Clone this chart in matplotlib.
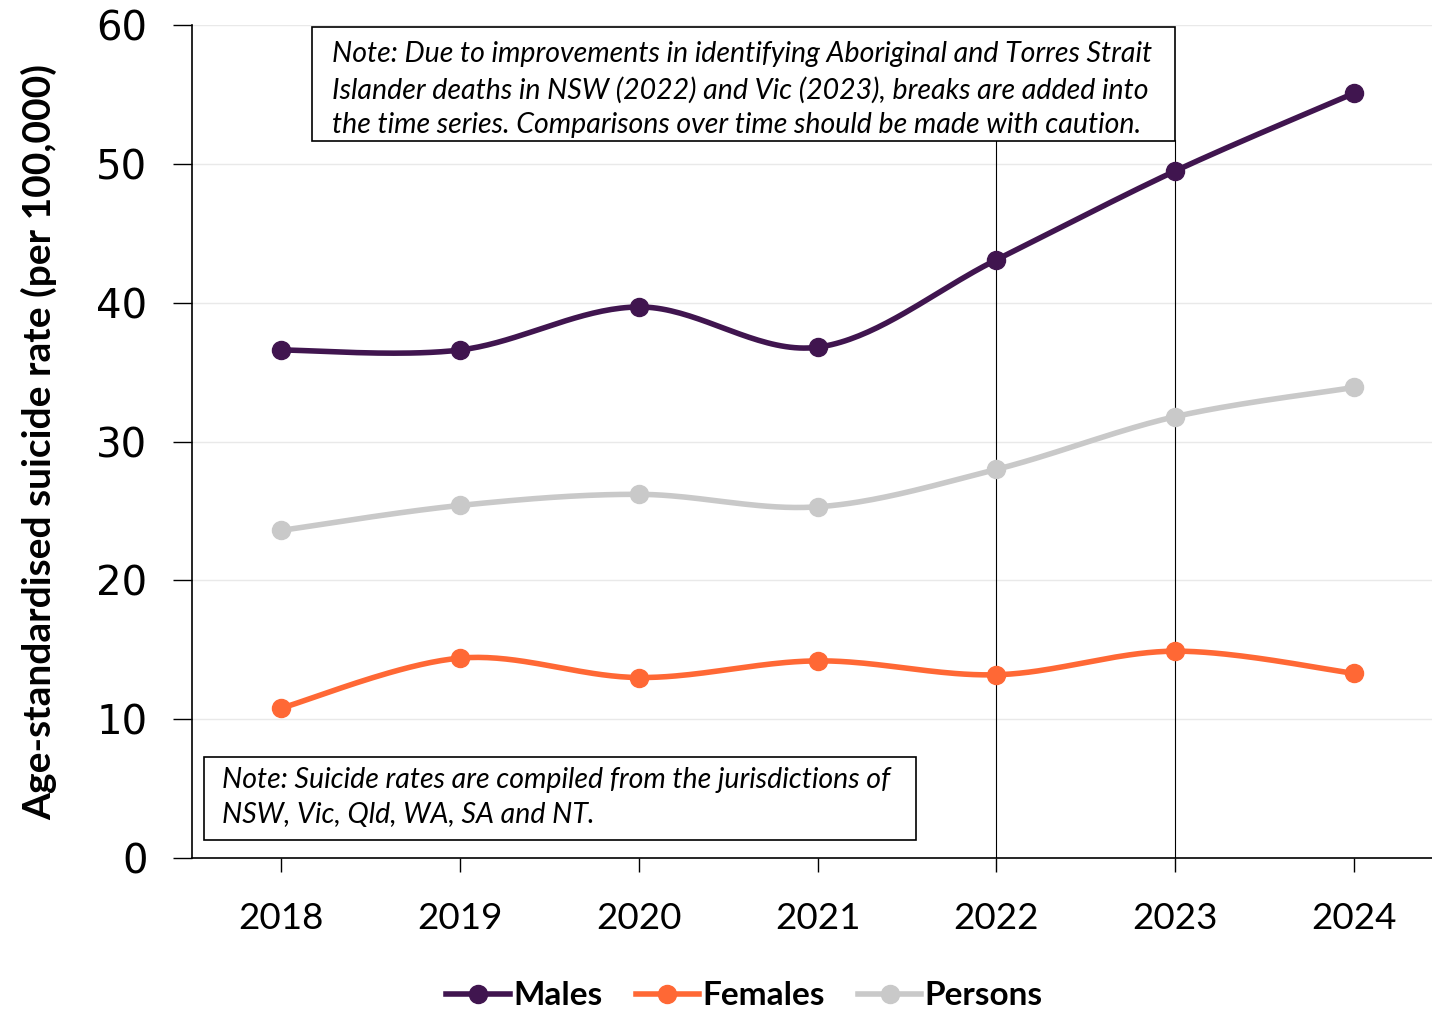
import numpy as np
import matplotlib.pyplot as plt
from matplotlib.lines import Line2D
from matplotlib.patches import Rectangle

plt.rcParams['font.family'] = ['Lato', 'DejaVu Sans']

years = [2018, 2019, 2020, 2021, 2022, 2023, 2024]
males = [36.6, 36.6, 39.7, 36.8, 43.1, 49.5, 55.1]
females = [10.8, 14.4, 13.0, 14.2, 13.2, 14.9, 13.3]
persons = [23.6, 25.4, 26.2, 25.3, 28.0, 31.8, 33.9]
break_years = [2022, 2023]

note_top = ("Note: Due to improvements in identifying Aboriginal and Torres Strait\n"
            "Islander deaths in NSW (2022) and Vic (2023), breaks are added into\n"
            "the time series. Comparisons over time should be made with caution.")
note_bottom = ("Note: Suicide rates are compiled from the jurisdictions of\n"
               "NSW, Vic, Qld, WA, SA and NT.")

C_MALES = '#40154f'
C_FEMALES = '#ff6835'
C_PERSONS = '#c9c9c9'


def smooth(xs, ys, n=40):
    # excel-like smoothed line: cubic bezier between points
    p = np.column_stack([xs, ys]).astype(float)
    p_ext = np.vstack([p[0], p, p[-1]])
    out = []
    for i in range(len(p) - 1):
        p0, p3 = p_ext[i + 1], p_ext[i + 2]
        c1 = p0 + (p_ext[i + 2] - p_ext[i]) / 6
        c2 = p3 - (p_ext[i + 3] - p_ext[i + 1]) / 6
        t = np.linspace(0, 1, n)[:, None]
        seg = (1 - t)**3 * p0 + 3 * (1 - t)**2 * t * c1 + 3 * (1 - t) * t**2 * c2 + t**3 * p3
        out.append(seg if i == 0 else seg[1:])
    out = np.vstack(out)
    return out[:, 0], out[:, 1]


fig = plt.figure(figsize=(14.32, 10.09), dpi=100)
ax = fig.add_axes([0.134, 0.1497, 0.874, 0.8253])

for yv in range(10, 61, 10):
    ax.axhline(yv, color='#e9e9e9', lw=1, zorder=0)

for by in break_years:
    ax.plot([by, by], [0, 51.7], color='black', lw=0.8, zorder=1)

for vals, col in [(persons, C_PERSONS), (females, C_FEMALES), (males, C_MALES)]:
    sx, sy = smooth(years, vals)
    ax.plot(sx, sy, color=col, lw=4.0, zorder=3, solid_capstyle='round')
    ax.plot(years, vals, 'o', color=col, ms=13, zorder=4)

ax.set_xlim(2017.5, 2024.5)
ax.set_ylim(0, 60)
ax.set_xticks(years)
ax.set_xticklabels([str(y) for y in years])
ax.set_yticks(range(0, 61, 10))
ax.tick_params(axis='x', labelsize=26.5, length=10, width=1, direction='out', pad=22)
ax.tick_params(axis='y', labelsize=29, length=14, width=1, direction='out', pad=18)
for lab in ax.get_yticklabels():
    lab.set_family('DejaVu Sans')
for s in ['top', 'right']:
    ax.spines[s].set_visible(False)
ax.spines['left'].set_linewidth(1.2)
ax.spines['bottom'].set_linewidth(1.2)
ax.set_ylabel('Age-standardised suicide rate (per 100,000)', fontsize=28,
              fontweight='bold', labelpad=28)

# note boxes
ax.add_patch(Rectangle((0.0959, 0.8607), 0.6895, 0.1369, transform=ax.transAxes,
                       fc='white', ec='black', lw=1.2, zorder=5, clip_on=False))
ax.text(0.1119, 0.9225, note_top, transform=ax.transAxes, fontsize=20.5,
        style='italic', va='center', ha='left', linespacing=1.42, zorder=6)
ax.add_patch(Rectangle((0.0096, 0.0216), 0.5689, 0.0997, transform=ax.transAxes,
                       fc='white', ec='black', lw=1.2, zorder=5, clip_on=False))
ax.text(0.024, 0.0725, note_bottom, transform=ax.transAxes, fontsize=20.5,
        style='italic', va='center', ha='left', linespacing=1.42, zorder=6)

handles = [Line2D([], [], color=c, lw=4.0, marker='o', ms=13) for c in (C_MALES, C_FEMALES, C_PERSONS)]
fig.legend(handles, ['Males', 'Females', 'Persons'], loc='center', bbox_to_anchor=(0.52, 0.013),
           ncol=3, frameon=False, prop={'size': 24, 'weight': 'bold'},
           handlelength=1.9, handletextpad=0.1, columnspacing=1.0)

plt.savefig('out.png', dpi=100)
